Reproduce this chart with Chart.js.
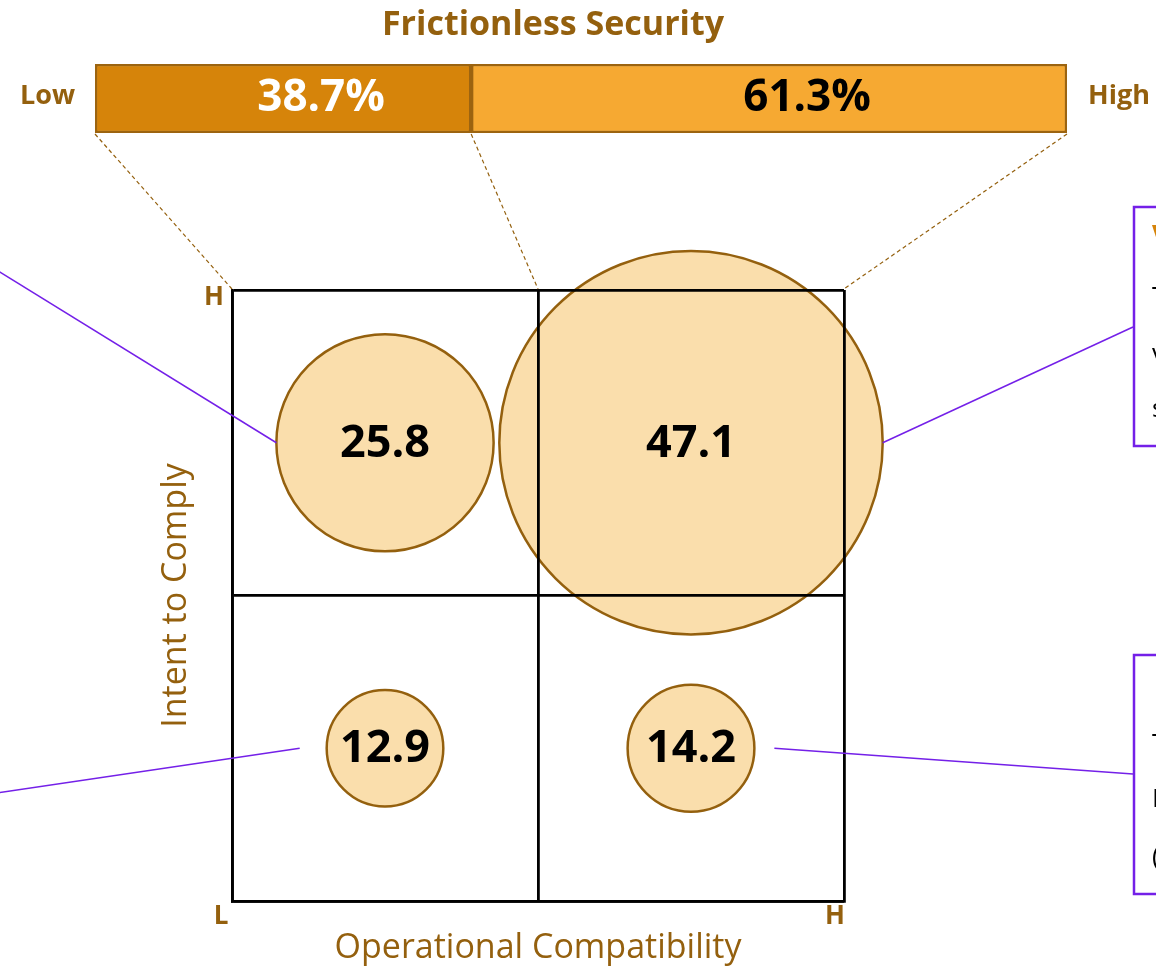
<!DOCTYPE html>
<html lang="en">
<head>
  <meta charset="UTF-8">
  <title>Frictionless Security</title>
  <script src="https://cdn.jsdelivr.net/npm/chart.js"></script>
  <style>
    body {
      margin: 0;
      background: #fff;
    }
    .wrap {
      position: relative;
      width: 1156px;
      height: 966px;
      overflow: hidden;
    }
    canvas {
      position: absolute;
      left: 0;
      top: 0;
    }
  </style>
</head>
<body>

<div class="wrap">
  <canvas id="quadrants" width="1156" height="966"></canvas>
  <canvas id="topBar" width="1156" height="966"></canvas>
</div>

<script>
  // data
  const barLabels = ["Low", "High"];
  const barValues = [38.7, 61.3];
  const quadX = [0.5, 1.5, 0.5, 1.5];   // Operational Compatibility: L..H
  const quadY = [1.5, 1.5, 0.5, 0.5];   // Intent to Comply: L..H
  const quadValues = [25.8, 47.1, 12.9, 14.2];
  const axisTicks = ["L", "H"];

  const BROWN = "#94600e";
  const PURPLE = "#7420e8";
  const FONT = "'Open Sans', 'Liberation Sans', sans-serif";

  function radius(v) {
    return 3.9 * v + 8;
  }

  // callouts (only the left edge is inside the picture)
  const callouts = [
    { from: 0, side: -1, gap: 0, to: [-10, 266] },
    { from: 1, side: 1, gap: 0, to: [1133, 327] },
    { from: 2, side: -1, gap: 27, to: [-10, 794] },
    { from: 3, side: 1, gap: 20, to: [1133, 774] }
  ];
  const boxes = [
    { y: 207, h: 239, lines: [
      ["Vigilant Adopters", "#d6840a", "bold", 237],
      ["They comply and", "#000", "normal", 298],
      ["value security that", "#000", "normal", 355],
      ["stays out of the way", "#000", "normal", 410]
    ] },
    { y: 655, h: 239, lines: [
      ["They find it easy", "#000", "normal", 745],
      ["Intent is missing", "#000", "normal", 800],
      ["(compatible, unwilling)", "#000", "normal", 858]
    ] }
  ];

  const quadNotes = {
    id: "quadNotes",
    afterDraw(chart) {
      const ctx = chart.ctx;
      const xs = chart.scales.x, ys = chart.scales.y;
      const pts = chart.getDatasetMeta(0).data;
      ctx.save();

      // value labels
      ctx.fillStyle = "#000";
      ctx.textAlign = "center";
      ctx.textBaseline = "middle";
      ctx.font = "bold 45px " + FONT;
      pts.forEach((p, i) => ctx.fillText(quadValues[i].toFixed(1), p.x, p.y + 1));

      // L / H corner ticks
      ctx.fillStyle = BROWN;
      ctx.font = "bold 26px " + FONT;
      ctx.textAlign = "right";
      ctx.fillText(axisTicks[1], xs.left - 8, ys.top + 8);
      ctx.textAlign = "center";
      ctx.fillText(axisTicks[0], xs.left - 11, ys.bottom + 16);
      ctx.fillText(axisTicks[1], xs.right - 9, ys.bottom + 16);

      // axis titles
      ctx.font = "34px " + FONT;
      ctx.textBaseline = "alphabetic";
      ctx.fillText("Operational Compatibility", (xs.left + xs.right) / 2, ys.bottom + 57);
      ctx.save();
      ctx.translate(xs.left - 46, (ys.top + ys.bottom) / 2);
      ctx.rotate(-Math.PI / 2);
      ctx.fillText("Intent to Comply", 0, 0);
      ctx.restore();

      // connectors
      ctx.strokeStyle = PURPLE;
      ctx.lineWidth = 1.5;
      callouts.forEach(c => {
        const p = pts[c.from];
        const r = p.options.radius;
        ctx.beginPath();
        ctx.moveTo(p.x + c.side * (r + c.gap), p.y);
        ctx.lineTo(c.to[0], c.to[1]);
        ctx.stroke();
      });

      // callout boxes
      ctx.lineWidth = 2.5;
      ctx.textAlign = "left";
      ctx.textBaseline = "middle";
      boxes.forEach(b => {
        ctx.fillStyle = "#fff";
        ctx.fillRect(1134, b.y, 60, b.h);
        ctx.strokeRect(1134, b.y, 60, b.h);
        b.lines.forEach(l => {
          ctx.fillStyle = l[1];
          ctx.font = l[2] + " 26px " + FONT;
          ctx.fillText(l[0], 1152, l[3]);
        });
      });
      ctx.restore();
    }
  };

  const quadChart = new Chart(document.getElementById("quadrants"), {
    type: "bubble",
    data: {
      datasets: [{
        label: "Share (%)",
        data: quadValues.map((v, i) => ({ x: quadX[i], y: quadY[i], r: radius(v) })),
        backgroundColor: "#fadeac",
        borderColor: BROWN,
        borderWidth: 2.5,
        clip: false
      }]
    },
    options: {
      responsive: false,
      animation: false,
      events: [],
      layout: { autoPadding: false, padding: { left: 232, right: 312, top: 290, bottom: 65 } },
      plugins: { legend: { display: false }, tooltip: { enabled: false } },
      scales: {
        x: {
          type: "linear", min: 0, max: 2,
          ticks: { display: false, stepSize: 1 },
          grid: { color: "#000", lineWidth: 2.8, drawTicks: false, z: 1 },
          border: { color: "#000", width: 2.8, z: 1 }
        },
        y: {
          type: "linear", min: 0, max: 2,
          ticks: { display: false, stepSize: 1 },
          grid: { color: "#000", lineWidth: 2.8, drawTicks: false, z: 1 },
          border: { color: "#000", width: 2.8, z: 1 }
        }
      }
    },
    plugins: [quadNotes]
  });

  const barNotes = {
    id: "barNotes",
    afterDraw(chart) {
      const ctx = chart.ctx;
      const xs = chart.scales.x;
      const area = chart.chartArea;
      const mid = (area.top + area.bottom) / 2;
      ctx.save();

      ctx.fillStyle = BROWN;
      ctx.textBaseline = "alphabetic";
      ctx.textAlign = "center";
      ctx.font = "bold 34px " + FONT;
      ctx.fillText("Frictionless Security", 553, 35);

      ctx.textBaseline = "middle";
      ctx.font = "bold 27px " + FONT;
      ctx.textAlign = "right";
      ctx.fillText(barLabels[0], area.left - 20, mid - 2);
      ctx.textAlign = "left";
      ctx.fillText(barLabels[1], area.right + 21, mid - 2);

      // percent labels
      ctx.textAlign = "center";
      ctx.font = "bold 44px " + FONT;
      let start = 0;
      barValues.forEach((v, i) => {
        ctx.fillStyle = i === 0 ? "#fff" : "#000";
        ctx.fillText(v.toFixed(1) + "%", xs.getPixelForValue(start + v / 2) + 38, mid);
        start += v;
      });

      // dashed guides from the bar to the grid
      const gx = quadChart.scales.x, gy = quadChart.scales.y;
      const marks = [0, barValues[0], 100];
      ctx.strokeStyle = BROWN;
      ctx.lineWidth = 1.2;
      ctx.setLineDash([4, 3]);
      marks.forEach((m, i) => {
        ctx.beginPath();
        ctx.moveTo(xs.getPixelForValue(m), area.bottom + 1);
        ctx.lineTo(gx.getPixelForValue(i), gy.getPixelForValue(2) - 1);
        ctx.stroke();
      });
      ctx.restore();
    }
  };

  const barChart = new Chart(document.getElementById("topBar"), {
    type: "bar",
    data: {
      labels: ["Frictionless Security"],
      datasets: barLabels.map((l, i) => ({
        label: l,
        data: [barValues[i]],
        backgroundColor: i === 0 ? "#d6840a" : "#f6a932",
        borderColor: "#9c6410",
        borderWidth: 2.5,
        borderSkipped: false,
        barPercentage: 1,
        categoryPercentage: 1
      }))
    },
    options: {
      indexAxis: "y",
      responsive: false,
      animation: false,
      events: [],
      layout: { autoPadding: false, padding: { left: 95, right: 89, top: 64, bottom: 833 } },
      plugins: { legend: { display: false }, tooltip: { enabled: false } },
      scales: {
        x: { stacked: true, display: false, min: 0, max: 100 },
        y: { stacked: true, display: false }
      }
    },
    plugins: [barNotes]
  });
</script>

</body>
</html>
